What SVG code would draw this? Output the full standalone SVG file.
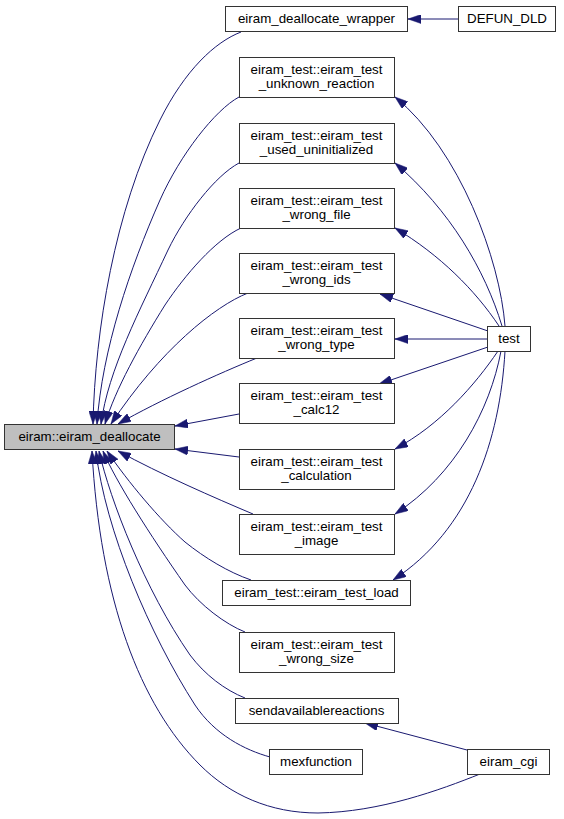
<svg xmlns="http://www.w3.org/2000/svg" width="564" height="819" viewBox="0 0 564 819">
<style>
.n rect{fill:#ffffff;stroke:#333333;stroke-width:1}
.n.main rect{fill:#bfbfbf}
.n text{font-family:"Liberation Sans",Arial,Helvetica,sans-serif;font-size:13.33px;fill:#000000;text-anchor:middle}
.e path{fill:none;stroke:#191970;stroke-width:1;marker-end:url(#ah)}
</style>
<defs>
<marker id="ah" markerUnits="userSpaceOnUse" viewBox="0 0 13 9" refX="13" refY="4.5" markerWidth="13" markerHeight="9" orient="auto">
<path d="M0,0 L13,4.5 L0,9 z" fill="#191970" stroke="#191970" stroke-width="0.5"/>
</marker>
</defs>
<rect width="564" height="819" fill="#ffffff"/>
<g id="edges" class="e">
<path d="M458,19 L408,19"/>
<path d="M241,32 C215,42 185,70 160,120 C115,210 95,330 93,424"/>
<path d="M239,97 C215,110 180,155 160,200 C130,268 102,350 97,424"/>
<path d="M239,163 C215,176 185,215 168,250 C140,310 108,370 101,424"/>
<path d="M241,228 C215,240 185,275 165,305 C140,345 115,390 105,424"/>
<path d="M248,293 C215,306 160,350 111,424"/>
<path d="M257,358 C220,373 160,400 118,424"/>
<path d="M239,414 L175,426"/>
<path d="M239,457 L175,449"/>
<path d="M253,514 C215,498 160,474 118,451"/>
<path d="M251,580 C228,572 205,558 185,542 C160,520 128,482 107,451"/>
<path d="M245,632 C225,624 200,605 185,585 C150,535 115,480 103,451"/>
<path d="M245,698 C225,690 205,675 190,655 C145,590 110,500 99,451"/>
<path d="M270,757 C245,750 215,735 195,705 C150,635 105,530 96,451"/>
<path d="M480,774 C440,790 380,812 318,813 C270,813 230,795 200,765 C140,705 100,600 92,451"/>
<path d="M505,326 C500,260 460,150 395,97"/>
<path d="M502,326 C485,270 450,210 395,163"/>
<path d="M499,326 C475,290 440,255 395,228"/>
<path d="M488,331 L380,294"/>
<path d="M487,339 L395,339"/>
<path d="M488,347 L379,384"/>
<path d="M498,351 C475,385 440,425 395,449"/>
<path d="M501,351 C490,410 455,475 395,514"/>
<path d="M505,351 C500,440 470,530 393,580"/>
<path d="M467,750 L365,723"/>
</g>
<g id="main" class="n main"><rect x="4.5" y="424.5" width="170" height="25"/><text x="89.5" y="441">eiram::eiram_deallocate</text></g>
<g id="wrapper" class="n"><rect x="225.5" y="6.5" width="182" height="25"/><text x="316.5" y="22.5">eiram_deallocate_wrapper</text></g>
<g id="defun" class="n"><rect x="458.5" y="6.5" width="97" height="25"/><text x="507" y="22.5">DEFUN_DLD</text></g>
<g id="unknown" class="n"><rect x="239.5" y="57.5" width="155" height="40"/><text x="316.5" y="74">eiram_test::eiram_test</text><text x="316.5" y="88">_unknown_reaction</text></g>
<g id="used" class="n"><rect x="239.5" y="123.5" width="155" height="40"/><text x="316.5" y="140">eiram_test::eiram_test</text><text x="316.5" y="154">_used_uninitialized</text></g>
<g id="file" class="n"><rect x="239.5" y="188.5" width="155" height="40"/><text x="316.5" y="205">eiram_test::eiram_test</text><text x="316.5" y="219">_wrong_file</text></g>
<g id="ids" class="n"><rect x="239.5" y="253.5" width="155" height="40"/><text x="316.5" y="270">eiram_test::eiram_test</text><text x="316.5" y="284">_wrong_ids</text></g>
<g id="type" class="n"><rect x="239.5" y="318.5" width="155" height="40"/><text x="316.5" y="335">eiram_test::eiram_test</text><text x="316.5" y="349">_wrong_type</text></g>
<g id="calc12" class="n"><rect x="239.5" y="383.5" width="155" height="40"/><text x="316.5" y="400">eiram_test::eiram_test</text><text x="316.5" y="414">_calc12</text></g>
<g id="calculation" class="n"><rect x="239.5" y="449.5" width="155" height="40"/><text x="316.5" y="466">eiram_test::eiram_test</text><text x="316.5" y="480">_calculation</text></g>
<g id="image" class="n"><rect x="239.5" y="514.5" width="155" height="40"/><text x="316.5" y="531">eiram_test::eiram_test</text><text x="316.5" y="545">_image</text></g>
<g id="load" class="n"><rect x="222.5" y="580.5" width="188" height="25"/><text x="316.5" y="597">eiram_test::eiram_test_load</text></g>
<g id="wrongsize" class="n"><rect x="239.5" y="632.5" width="155" height="40"/><text x="316.5" y="649">eiram_test::eiram_test</text><text x="316.5" y="663">_wrong_size</text></g>
<g id="send" class="n"><rect x="235.5" y="698.5" width="163" height="25"/><text x="316.5" y="715">sendavailablereactions</text></g>
<g id="mex" class="n"><rect x="269.5" y="749.5" width="93" height="25"/><text x="316" y="766">mexfunction</text></g>
<g id="test" class="n"><rect x="487.5" y="326.5" width="43" height="25"/><text x="509" y="343">test</text></g>
<g id="cgi" class="n"><rect x="467.5" y="749.5" width="82" height="25"/><text x="508.5" y="766">eiram_cgi</text></g>
</svg>
